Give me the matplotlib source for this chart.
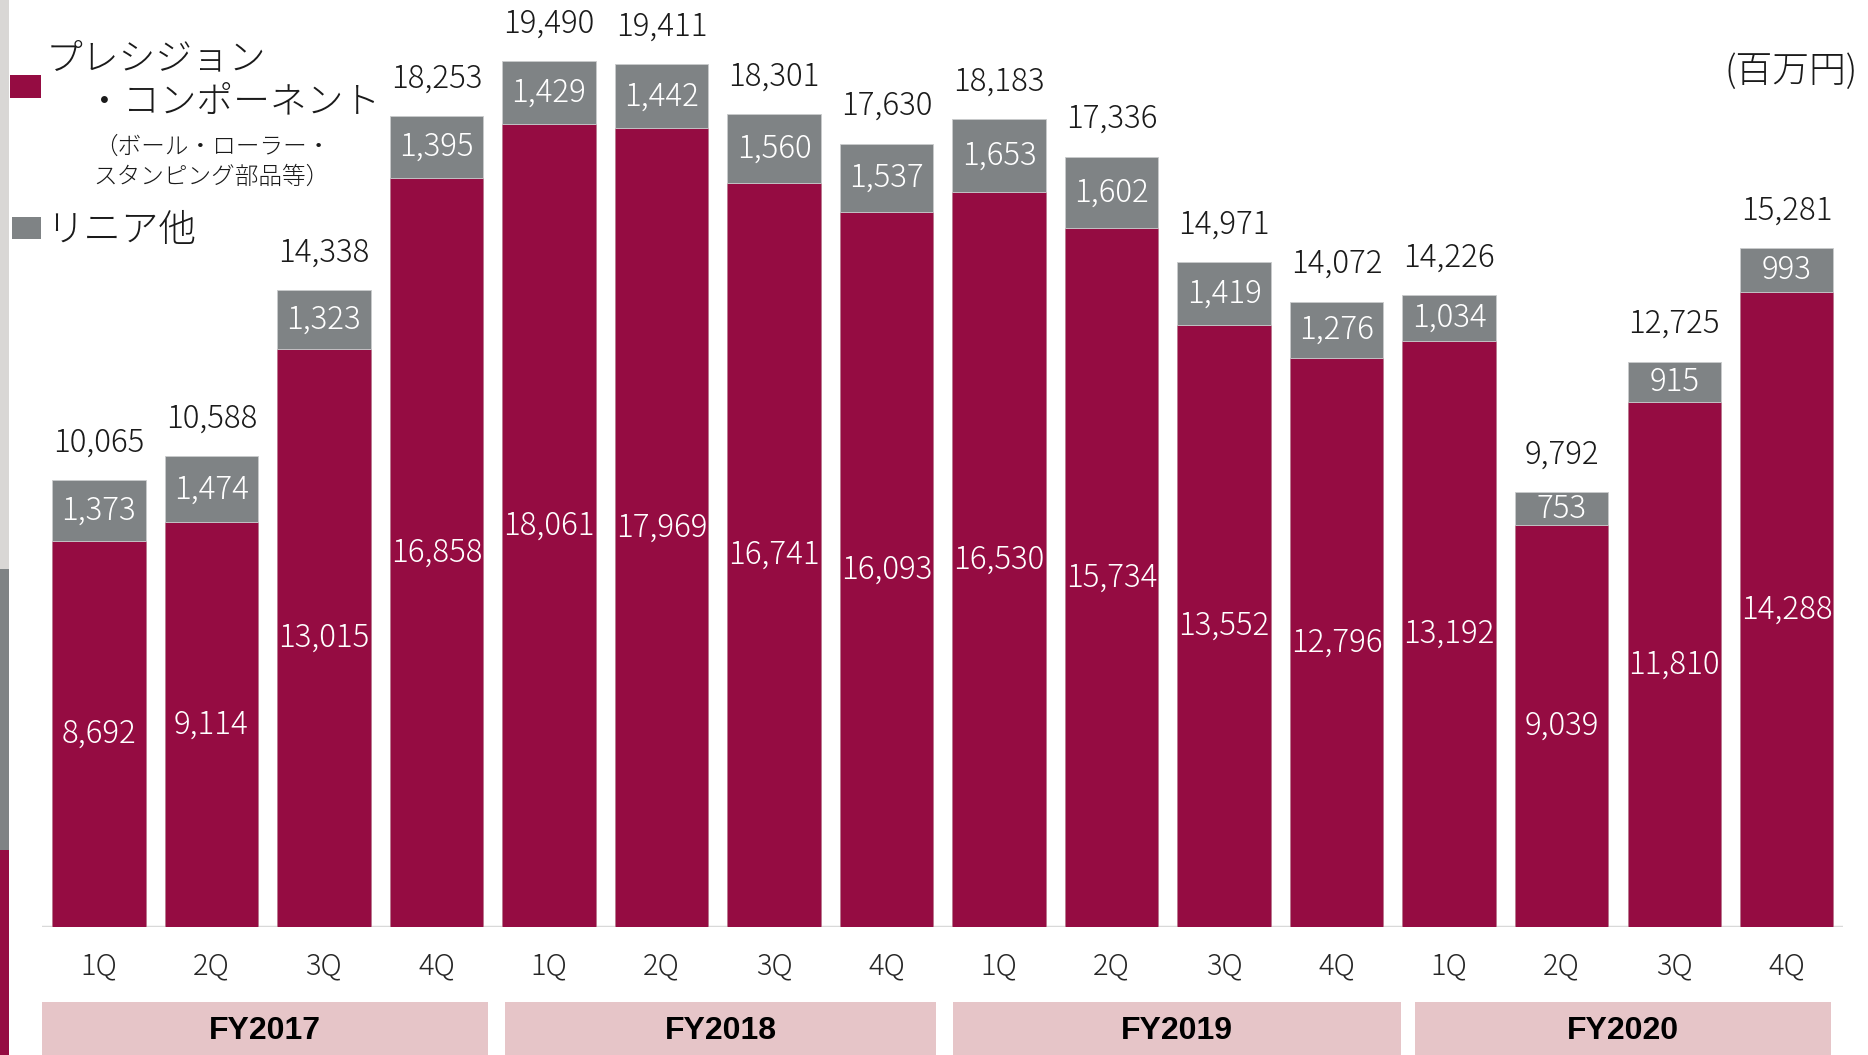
import matplotlib
matplotlib.use("Agg")
import matplotlib.pyplot as plt
from matplotlib.patches import Rectangle

plt.rcParams['font.family'] = ['Noto Sans CJK JP', 'DejaVu Sans']
plt.rcParams['font.weight'] = 'light'

# ---- data (百万円) ----
quarters = ['1Q', '2Q', '3Q', '4Q'] * 4
fiscal_years = ['FY2017', 'FY2018', 'FY2019', 'FY2020']
precision = [8692, 9114, 13015, 16858, 18061, 17969, 16741, 16093,
             16530, 15734, 13552, 12796, 13192, 9039, 11810, 14288]
linear = [1373, 1474, 1323, 1395, 1429, 1442, 1560, 1537,
          1653, 1602, 1419, 1276, 1034, 753, 915, 993]
totals = [10065, 10588, 14338, 18253, 19490, 19411, 18301, 17630,
          18183, 17336, 14971, 14072, 14226, 9792, 12725, 15281]

CRIMSON = '#950c42'
GREY = '#7f8385'
PINK = '#e6c5c8'
INK = '#1a1a1a'

W, H = 1868, 1055
fig = plt.figure(figsize=(W / 100, H / 100), dpi=100)

# axes: baseline at y=927px, x from 42 to 1843 px
ax = fig.add_axes([42 / W, (H - 927) / H, (1843 - 42) / W, 927 / H])
x = list(range(len(precision)))
ax.bar(x, precision, width=0.83, color=CRIMSON, edgecolor='#b9788f', linewidth=0.6)
ax.bar(x, linear, width=0.83, bottom=precision, color=GREY,
       edgecolor='#c9cbcc', linewidth=0.6)
ax.set_xlim(-0.505, 15.5)
ax.set_ylim(0, 20860)
for s in ax.spines.values():
    s.set_visible(False)
ax.set_xticks([])
ax.set_yticks([])
ax.axhline(0, color='#d9d9d9', lw=2.5, zorder=0)

fs = 22.5
for i in x:
    ax.text(i, precision[i] / 2, f'{precision[i]:,}', ha='center', va='center',
            color='white', fontsize=fs)
    ax.text(i, precision[i] + linear[i] / 2, f'{linear[i]:,}', ha='center',
            va='center', color='white', fontsize=fs)
    ax.annotate(f'{totals[i]:,}', xy=(i, totals[i]), xytext=(0, 27),
                textcoords='offset points', ha='center', va='center',
                color=INK, fontsize=fs, annotation_clip=False)

tr = ax.get_xaxis_transform()
for i in x:
    ax.text(i, -39 / 927, quarters[i], transform=tr, ha='center', va='center',
            color='#262626', fontsize=21, clip_on=False)

# fiscal-year bands under the quarter labels
box_left = [-0.505, 3.61, 7.59, 11.70]
box_right = [3.457, 7.44, 11.57, 15.39]
for fy, left, right in zip(fiscal_years, box_left, box_right):
    ax.add_patch(Rectangle((left, -(1055 - 927) / 927), right - left, 53 / 927,
                           transform=tr, color=PINK, clip_on=False, lw=0))
    ax.text((left + right) / 2, -104 / 927, fy, transform=tr, ha='center',
            va='center', fontsize=23, fontweight='bold', color='black',
            family=['Liberation Sans', 'DejaVu Sans'], clip_on=False)

# left edge stripe
fig.patches.append(Rectangle((0, 1 - 569 / H), 9 / W, 569 / H,
                             transform=fig.transFigure, color='#d9d7d5', lw=0))
fig.patches.append(Rectangle((0, 1 - 850 / H), 9 / W, (850 - 569) / H,
                             transform=fig.transFigure, color=GREY, lw=0))
fig.patches.append(Rectangle((0, 0), 9 / W, 1 - 850 / H,
                             transform=fig.transFigure, color=CRIMSON, lw=0))

# legend
fig.patches.append(Rectangle((10 / W, 1 - 98 / H), 31 / W, 23 / H,
                             transform=fig.transFigure, color=CRIMSON, lw=0))
fig.patches.append(Rectangle((12 / W, 1 - 239 / H), 29 / W, 22 / H,
                             transform=fig.transFigure, color=GREY, lw=0))
fig.text(46 / W, 1 - 59 / H, 'プレシジョン', fontsize=26.5, va='center', color=INK)
fig.text(86 / W, 1 - 102 / H, '・コンポーネント', fontsize=26.5, va='center', color=INK)
fig.text(94 / W, 1 - 147 / H, '（ボール・ローラー・', fontsize=17, va='center', color=INK)
fig.text(93 / W, 1 - 177 / H, 'スタンピング部品等）', fontsize=17, va='center', color=INK)
fig.text(46 / W, 1 - 230 / H, 'リニア他', fontsize=27, va='center', color=INK)

fig.text(1724 / W, 1 - 72 / H, '(百万円)', fontsize=26.5, ha='left', va='center',
         color=INK)

fig.savefig('out.png', dpi=100)
